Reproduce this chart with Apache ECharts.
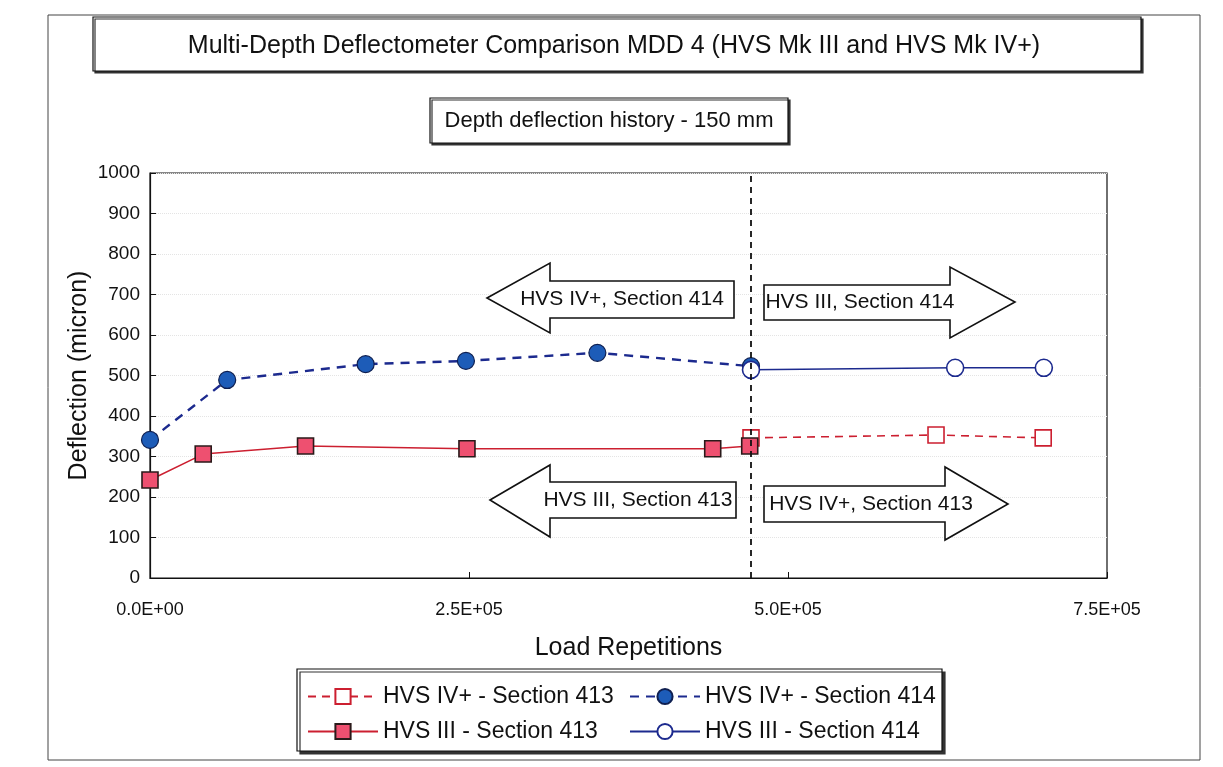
<!DOCTYPE html>
<html lang="en">
<head>
    <meta charset="UTF-8">
    <title>MDD 4 - 150 mm</title>
    <script src="https://cdn.jsdelivr.net/npm/echarts@6/dist/echarts.min.js"></script>
</head>

<style>
    body {
        margin:0;
        padding:0;
        background:#fff;
    }
</style>

<body>

<div id="main" style="width: 1223px;height: 767px;"></div>

<script>
    // load repetitions / deflection (micron)
    var iv413X = [471000, 616000, 700000];
    var iv413Y = [346, 353, 346];
    var iv414X = [0, 60500, 169000, 247600, 350600, 471000];
    var iv414Y = [341, 489, 528, 536, 556, 523];
    var iii413X = [0, 41700, 121900, 248400, 441000, 470000];
    var iii413Y = [242, 306, 326, 319, 319, 326];
    var iii414X = [471000, 631000, 700500];
    var iii414Y = [514, 519, 519];

    var switchOver = 471000;   // machine change, dashed divider
    var xTicks = [0, 250000, 500000, 750000];
    var yTicks = [0, 100, 200, 300, 400, 500, 600, 700, 800, 900, 1000];

    var names = ['HVS IV+ - Section 413', 'HVS IV+ - Section 414', 'HVS III - Section 413', 'HVS III - Section 414'];

    function pairs(xs, ys) {
        return xs.map(function (x, i) { return [x, ys[i]]; });
    }

    // 2.5E+05 style
    function sci(v) {
        if (v === 0) return '0.0E+00';
        var e = Math.floor(Math.log10(v));
        var m = (v / Math.pow(10, e)).toFixed(1);
        return m + 'E+' + (e < 10 ? '0' + e : e);
    }

    var font = 'Liberation Sans';
    var red = '#cc1f30', pink = '#ee5070', navy = '#1c2a8e', blue = '#1d5cb8';

    function arrow(pts, label, tx, ty) {
        return [{
            type: 'polygon',
            shape: { points: pts },
            style: { fill: '#fff', stroke: '#111', lineWidth: 1.6 },
            z: 20
        }, {
            type: 'text', x: tx, y: ty, z: 21,
            style: { text: label, font: '21px ' + font, fill: '#111', align: 'center', verticalAlign: 'middle' }
        }];
    }

    var myChart = echarts.init(document.getElementById('main'));

    var graphics = [
        { type: 'rect', shape: { x: 48, y: 15, width: 1152, height: 745 }, style: { fill: 'none', stroke: '#444', lineWidth: 1 }, z: 1 },
        { type: 'rect', shape: { x: 93, y: 17, width: 1048, height: 54 }, style: { fill: '#fff', stroke: '#111', lineWidth: 1.2, shadowColor: '#333', shadowOffsetX: 2, shadowOffsetY: 2, shadowBlur: 0 }, z: 5 },
        { type: 'text', x: 614, y: 46, z: 6, style: { text: 'Multi-Depth Deflectometer Comparison MDD 4 (HVS Mk III and HVS Mk IV+)', font: '25px ' + font, fill: '#111', align: 'center', verticalAlign: 'middle' } },
        { type: 'rect', shape: { x: 430, y: 98, width: 358, height: 45 }, style: { fill: '#fff', stroke: '#111', lineWidth: 1.2, shadowColor: '#333', shadowOffsetX: 2, shadowOffsetY: 2, shadowBlur: 0 }, z: 5 },
        { type: 'text', x: 609, y: 121, z: 6, style: { text: 'Depth deflection history - 150 mm', font: '22px ' + font, fill: '#111', align: 'center', verticalAlign: 'middle' } },
        { type: 'rect', shape: { x: 297, y: 669, width: 645, height: 82 }, style: { fill: '#fff', stroke: '#111', lineWidth: 1.2, shadowColor: '#333', shadowOffsetX: 3, shadowOffsetY: 3, shadowBlur: 0 }, z: 1 }
    ];
    graphics = graphics
        .concat(arrow([[487, 298], [550, 263], [550, 281], [734, 281], [734, 318], [550, 318], [550, 333]], 'HVS IV+, Section 414', 622, 299))
        .concat(arrow([[764, 285], [950, 285], [950, 267], [1015, 302], [950, 338], [950, 320], [764, 320]], 'HVS III, Section 414', 860, 302))
        .concat(arrow([[490, 500], [550, 465], [550, 482], [736, 482], [736, 518], [550, 518], [550, 537]], 'HVS III, Section 413', 638, 500))
        .concat(arrow([[764, 486], [945, 486], [945, 467], [1008, 504], [945, 540], [945, 522], [764, 522]], 'HVS IV+, Section 413', 871, 504));

    var legendBase = {
        orient: 'vertical',
        itemWidth: 70,
        itemHeight: 19,
        itemGap: 12,
        textStyle: { fontFamily: font, fontSize: 23, color: '#111' },
        z: 10
    };

    var option = {
        animation: false,
        backgroundColor: '#fff',
        textStyle: { fontFamily: font },
        graphic: graphics,
        legend: [
            Object.assign({ left: 302, top: 680, data: [names[0], names[2]] }, legendBase),
            Object.assign({ left: 624, top: 680, data: [names[1], names[3]] }, legendBase)
        ],
        grid: {
            left: 150, top: 173, width: 957, height: 405,
            show: true, borderColor: '#111', borderWidth: 1.2, backgroundColor: 'transparent'
        },
        xAxis: {
            type: 'value',
            min: 0, max: 750000, interval: 250000,
            name: 'Load Repetitions',
            nameLocation: 'middle',
            nameGap: 58,
            nameTextStyle: { fontSize: 25, color: '#111', fontFamily: font },
            axisLine: { onZero: false, lineStyle: { color: '#111', width: 1.2 } },
            axisTick: { inside: true, length: 6, lineStyle: { color: '#111' } },
            axisLabel: { formatter: function (v) { return xTicks.indexOf(v) >= 0 ? sci(v) : ''; }, fontSize: 18, color: '#111', margin: 23 },
            splitLine: { show: false }
        },
        yAxis: {
            type: 'value',
            min: yTicks[0], max: yTicks[yTicks.length - 1], interval: 100,
            name: 'Deflection (micron)',
            nameLocation: 'middle',
            nameGap: 58,
            nameMoveOverlap: false,
            nameTextStyle: { fontSize: 25, color: '#111', fontFamily: font },
            axisLine: { show: true, lineStyle: { color: '#111', width: 1.2 } },
            axisTick: { inside: true, length: 6, lineStyle: { color: '#111' } },
            axisLabel: { formatter: function (v) { return String(v); }, fontSize: 19, color: '#111', margin: 10 },
            splitLine: { show: true, lineStyle: { color: '#e4e4e4', type: 'dotted', width: 1 } }
        },
        series: [{
            name: names[0],
            type: 'line',
            data: pairs(iv413X, iv413Y),
            symbol: 'rect', symbolSize: 16,
            itemStyle: { color: '#fff', borderColor: red, borderWidth: 1.6 },
            lineStyle: { color: red, width: 1.6, type: [8, 6] },
            z: 3
        }, {
            name: names[1],
            type: 'line',
            data: pairs(iv414X, iv414Y),
            symbol: 'circle', symbolSize: 17,
            itemStyle: { color: blue, borderColor: '#0f1f50', borderWidth: 1.2 },
            lineStyle: { color: navy, width: 2.4, type: [9, 7] },
            z: 3
        }, {
            name: names[2],
            type: 'line',
            data: pairs(iii413X, iii413Y),
            symbol: 'rect', symbolSize: 16,
            itemStyle: { color: pink, borderColor: '#2a1a1a', borderWidth: 1.6 },
            lineStyle: { color: red, width: 1.5 },
            z: 4,
            markLine: {
                silent: true,
                symbol: 'none',
                label: { show: false },
                lineStyle: { color: '#111', type: [6, 5], width: 1.8 },
                data: [{ xAxis: switchOver }]
            }
        }, {
            name: names[3],
            type: 'line',
            data: pairs(iii414X, iii414Y),
            symbol: 'circle', symbolSize: 17,
            itemStyle: { color: '#fff', borderColor: navy, borderWidth: 1.6 },
            lineStyle: { color: navy, width: 1.5 },
            z: 4
        }]
    };

    myChart.setOption(option);
</script>

</body>
</html>
